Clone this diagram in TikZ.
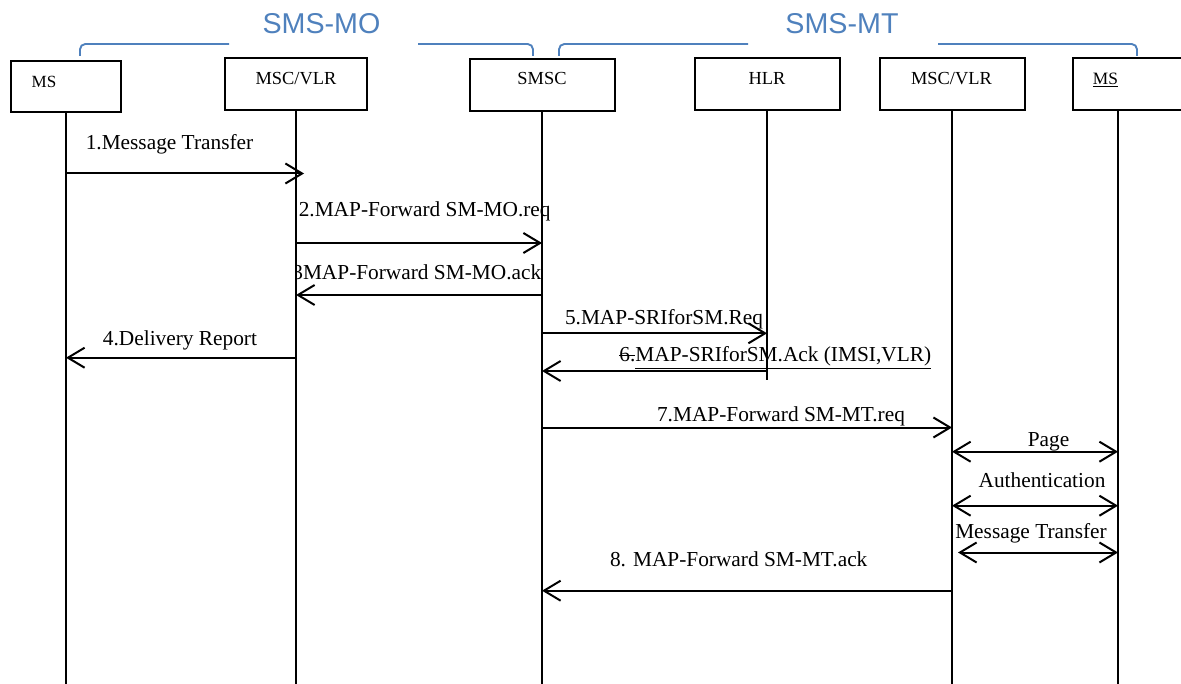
\documentclass[tikz,border=0pt]{standalone}
\usepackage{fontspec}
\setmainfont{Liberation Serif}
\newfontfamily\arialf{Liberation Sans}
\usetikzlibrary{arrows.meta,calc}
\definecolor{brblue}{RGB}{79,129,189}
\newcommand{\mystrike}[1]{\setbox0\hbox{#1}\rlap{\rule[0.28em]{\wd0}{0.05em}}\box0}
\tikzset{
  ent/.style={draw=black, line width=1.5pt, fill=white, inner sep=0pt, minimum width=108.75pt, minimum height=39pt},
  entlab/.style={anchor=base, inner sep=0pt, font=\fontsize{13.8}{16}\selectfont},
  life/.style={line width=1.5pt},
  msg/.style={line width=1.5pt, -{Straight Barb[length=12.5pt,width=15pt,line width=1.5pt]}},
  msgb/.style={line width=1.5pt, {Straight Barb[length=12.5pt,width=15pt,line width=1.5pt]}-{Straight Barb[length=12.5pt,width=15pt,line width=1.5pt]}},
  msglab/.style={anchor=base, inner sep=0pt, font=\fontsize{16}{19}\selectfont},
  bracket/.style={draw=brblue, line width=1.4pt, rounded corners=4pt},
  grp/.style={anchor=base, inner sep=0pt, text=brblue, font=\arialf\fontsize{21.5}{26}\selectfont}
}
\begin{document}
\begin{tikzpicture}[x=0.75pt,y=-0.75pt]
\useasboundingbox (0,0) rectangle (1181,684);
\clip (0,0) rectangle (1181,684);
\fill[white] (0,0) rectangle (1181,684);

% group brackets
\node[grp] (mo) at (321.5,34) {SMS-MO};
\node[grp] (mt) at (842,34) {SMS-MT};
\draw[bracket] (80,56) -- (80,44) -- (229,44);
\draw[bracket] (418,44) -- (533,44) -- (533,56);
\draw[bracket] (559,56) -- (559,44) -- (748,44);
\draw[bracket] (938,44) -- (1137,44) -- (1137,56);

% entities
\node[ent, minimum width=82.5pt, minimum height=38.25pt] (ms) at (66,86.5) {};
\node[ent, minimum width=106.5pt] (msc) at (296,84.5) {};
\node[ent] (smsc) at (542,84.7) {};
\node[ent] (hlr) at (767,84.5) {};
\node[ent] (msc2) at (952,83.7) {};
\node[ent, minimum width=93.75pt] (ms2) at (1135.5,84) {};

\node[entlab, font=\fontsize{12.8}{15}\selectfont] (msT) at (44,87.3) {MS};
\node[entlab] (mscT) at (296,85) {MSC/VLR};
\node[entlab] (smscT) at (542,85) {SMSC};
\node[entlab] (hlrT) at (767,85) {HLR};
\node[entlab] (msc2T) at (951.5,84.3) {MSC/VLR};
\node[entlab, font=\fontsize{13}{15}\selectfont] (ms2T) at (1105.5,84.3) {\underline{MS}};

% lifelines
\coordinate (lA) at (ms.south);
\coordinate (lB) at (msc.south);
\coordinate (lC) at (smsc.south);
\coordinate (lD) at (hlr.south);
\coordinate (lE) at (msc2.south);
\coordinate (lF) at (1118,110);
\draw[life] (lA) -- (lA |- 0,684);
\draw[life] (lB) -- (lB |- 0,684);
\draw[life] (lC) -- (lC |- 0,684);
\draw[life] (lD) -- (lD |- 0,380);
\draw[life] (lE) -- (lE |- 0,684);
\draw[life] (lF) -- (lF |- 0,684);

% message labels
\node[msglab] (m1) at (169.5,149.3) {1.Message Transfer};
\node[msglab, anchor=base west] (m2) at (298.5,216.7) {2.MAP-Forward SM-MO.req};
\begin{scope}
\clip (297,250) rectangle (560,290);
\node[msglab, anchor=base east] (m3) at (541.5,280) {3MAP-Forward SM-MO.ack};
\end{scope}
\node[msglab] (m4) at (180,345) {4.Delivery Report};
\node[msglab] (m5) at (664,325) {5.MAP-SRIforSM.Req};
\node[msglab] (m6) at (775.3,361.7) {\mystrike{6.}\underline{MAP-SRIforSM.Ack (IMSI,VLR)}};
\node[msglab] (m7) at (781,421) {7.MAP-Forward SM-MT.req};
\node[msglab] (p1) at (1048.5,446) {Page};
\node[msglab] (p2) at (1042,487) {Authentication};
\node[msglab] (p3) at (1031,538) {Message Transfer};
\node[msglab] (m8) at (738.7,566.7) {8. MAP-Forward SM-MT.ack};

% redraw lifeline segments over labels
\draw[life] (lB |- 0,250) -- (lB |- 0,292);
\draw[life] (lC |- 0,200) -- (lC |- 0,230);

% messages
\draw[msg] (lA |- 0,173.5) -- ($(lB |- 0,173.5)+(8,0)$);
\draw[msg] (lB |- 0,243) -- (lC |- 0,243);
\draw[msg] (lC |- 0,295) -- (lB |- 0,295);
\draw[msg] (lC |- 0,333.3) -- (lD |- 0,333.3);
\draw[msg] (lB |- 0,357.7) -- (lA |- 0,357.7);
\draw[msg] (lD |- 0,371) -- (lC |- 0,371);
\draw[msg] (lC |- 0,427.5) -- (lE |- 0,427.5);
\draw[msgb] (lE |- 0,451.7) -- (lF |- 0,451.7);
\draw[msgb] (lE |- 0,505.7) -- (lF |- 0,505.7);
\draw[msgb] ($(lE |- 0,552.5)+(6,0)$) -- (lF |- 0,552.5);
\draw[msg] (lE |- 0,590.7) -- (lC |- 0,590.7);
\end{tikzpicture}
\end{document}
